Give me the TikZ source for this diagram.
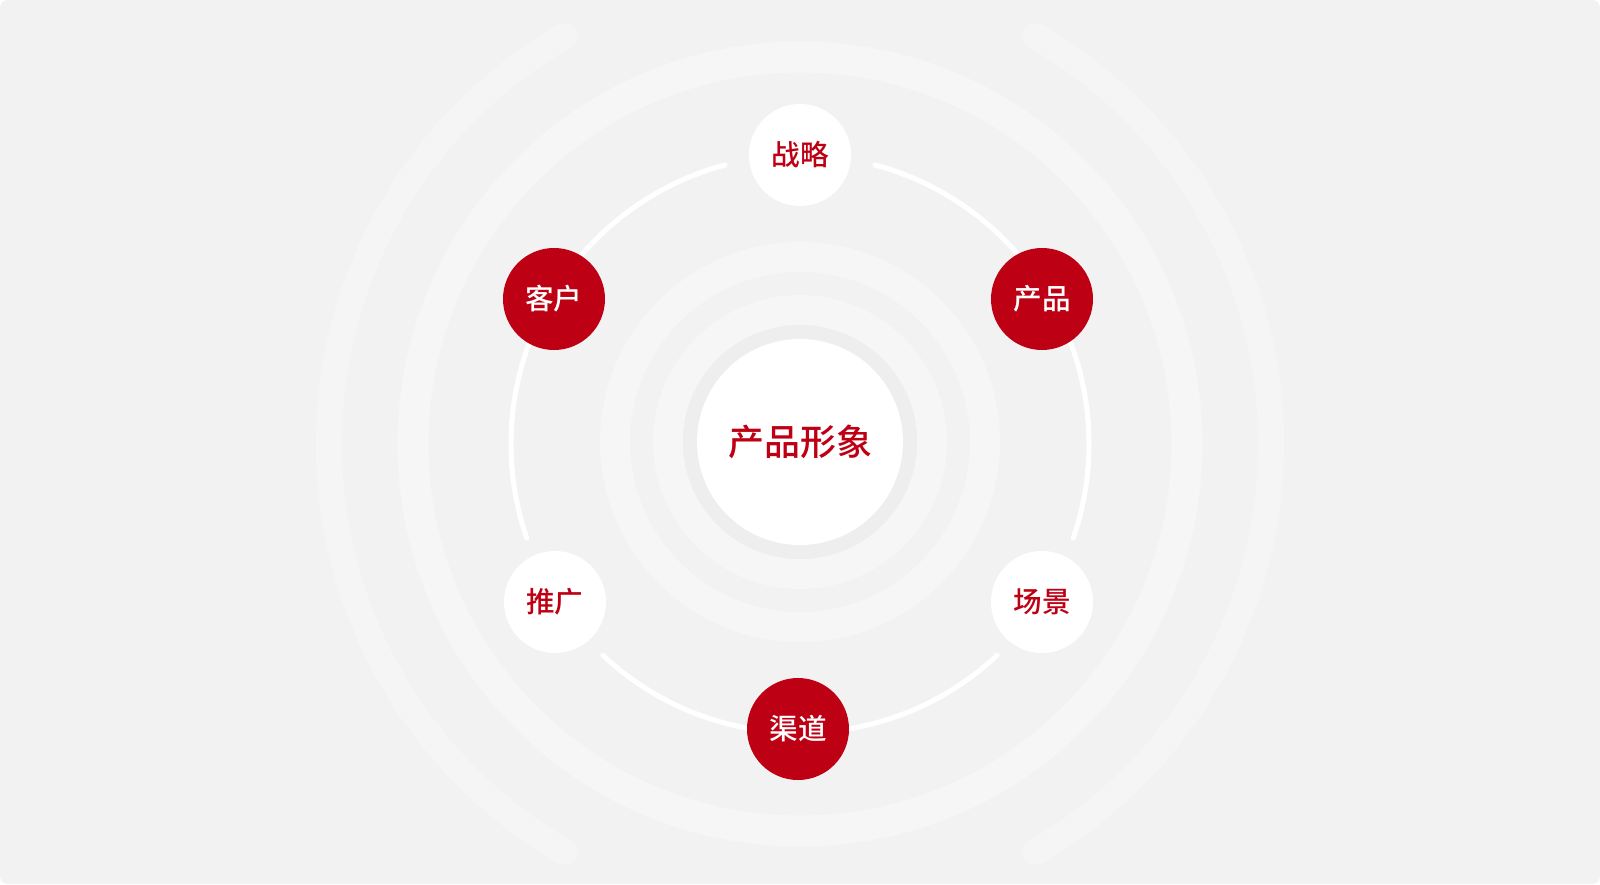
\documentclass[tikz,border=0pt]{standalone}
\usepackage{fontspec}
\usepackage{tikz}
\newfontfamily\cjk{Noto Sans CJK SC}[UprightFont=* Medium]
\definecolor{mred}{RGB}{190, 0, 20}
\definecolor{mgray}{RGB}{242, 242, 242}
\definecolor{mband}{RGB}{238, 238, 238}
\definecolor{mring}{RGB}{246, 246, 246}
\definecolor{mfaint}{RGB}{245, 245, 245}
\tikzset{ring/.style = {draw=mring}}
\tikzset{orbit/.style = {draw=white, line width=2.5pt, line cap=round}}
\tikzset{wcirc/.style = {circle, fill=white, text=mred, inner sep=0, minimum size=51pt,
                         font=\cjk\fontsize{14.3}{16}\selectfont}}
\tikzset{rcirc/.style = {wcirc, fill=mred, text=white}}
\tikzset{core/.style = {circle, fill=white, text=mred, inner sep=0, minimum size=103pt,
                        font=\cjk\fontsize{18}{20}\selectfont}}

\begin{document}
\begin{tikzpicture}[x=0.5pt, y=0.5pt]
  \useasboundingbox (-800, -440) rectangle (800, 444);
  \fill [white] (-800, -440) rectangle (800, 444);
  \fill [mgray, rounded corners=4pt] (-800, -440) rectangle (800, 444);

  % outer rings
  \draw [ring, line width=15.5pt] (0, 0) circle [radius=387];
  \draw [draw=mfaint, line width=13pt, line cap=round] (120:471) arc [start angle=120, end angle=240, radius=471];
  \draw [draw=mfaint, line width=13pt, line cap=round] (-60:471) arc [start angle=-60, end angle=60, radius=471];

  % inner rings
  \draw [ring, line width=15pt] (0, 2) circle [radius=185];
  \draw [ring, line width=15pt] (0, 2) circle [radius=132];
  \fill [mband] (0, 2) circle [radius=117];
  \node [core] (image) at (0, 2) {产品形象};

  % orbit
  \draw [orbit] (-19:289) arc [start angle=-19, end angle=75, radius=289];
  \draw [orbit] (105:289) arc [start angle=105, end angle=199, radius=289];
  \draw [orbit] (227:289) arc [start angle=227, end angle=313, radius=289];

  \node [wcirc] (strategy) at (0, 289) {战略};
  \node [rcirc] (customer) at (-246, 145) {客户};
  \node [rcirc] (product) at (242, 145) {产品};
  \node [wcirc] (promotion) at (-245, -158) {推广};
  \node [wcirc] (scene) at (242, -158) {场景};
  \node [rcirc] (channel) at (-2, -285) {渠道};
\end{tikzpicture}
\end{document}
